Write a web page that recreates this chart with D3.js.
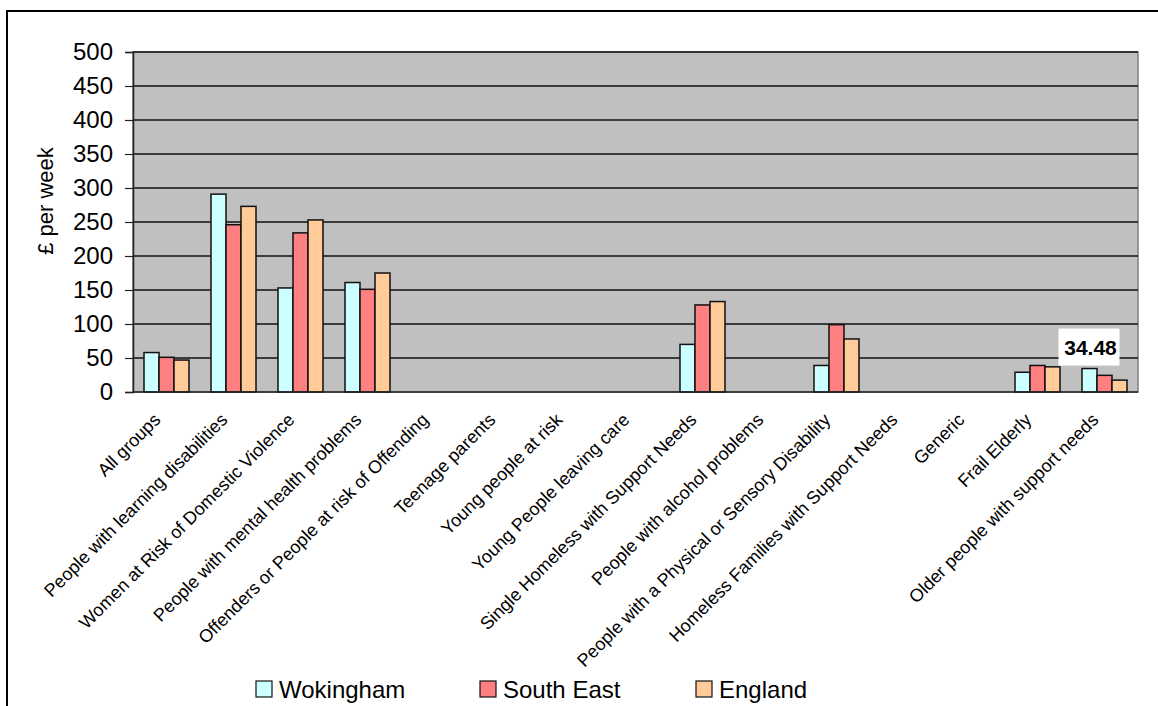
<!DOCTYPE html>
<html>
<head>
<meta charset="utf-8">
<script src="https://cdn.jsdelivr.net/npm/d3@7"></script>
<style>
  html, body { margin: 0; padding: 0; background: #fff; }
  svg { display: block; font-family: Arial, "Liberation Sans", sans-serif; }
</style>
</head>
<body>
<svg id="chart" width="1158" height="706"></svg>
<script>
// Supported housing cost per week by client group
const categories = [
  "All groups",
  "People with learning disabilities",
  "Women at Risk of Domestic Violence",
  "People with mental health problems",
  "Offenders or People at risk of Offending",
  "Teenage parents",
  "Young people at risk",
  "Young People leaving care",
  "Single Homeless with Support Needs",
  "People with alcohol problems",
  "People with a Physical or Sensory Disability",
  "Homeless Families with Support Needs",
  "Generic",
  "Frail Elderly",
  "Older people with support needs"
];
const seriesNames = ["Wokingham", "South East", "England"];
const wokingham = [58, 291, 153, 161, null, null, null, null, 70, null, 39, null, null, 29, 34.48];
const southEast = [51, 246, 234, 151, null, null, null, null, 128, null, 99, null, null, 39, 24.5];
const england   = [47, 273, 253, 175, null, null, null, null, 133, null, 78, null, null, 37, 17.5];
const seriesColors = ["#CCFFFF", "#FF8080", "#FFCC99"];
const yTicks = [0, 50, 100, 150, 200, 250, 300, 350, 400, 450, 500];
const labelled = { series: 0, category: "Older people with support needs", text: "34.48" };

const seriesValues = [wokingham, southEast, england];
const rows = categories.map((c, i) => ({
  category: c,
  values: seriesNames.map((s, k) => ({ series: s, k, value: seriesValues[k][i] }))
}));

const svg = d3.select("#chart");
const plot = { left: 133, right: 1138, top: 52, bottom: 392 };

// outer frame (top and left edges)
svg.append("path")
  .attr("d", "M7,706 L7,11 L1158,11")
  .attr("fill", "none").attr("stroke", "#000").attr("stroke-width", 2);

const x0 = d3.scaleBand().domain(categories).range([plot.left, plot.right]).padding(0);
const x1 = d3.scaleBand().domain(seriesNames).range([11, 56]).padding(0);
const y = d3.scaleLinear().domain([0, 500]).range([plot.bottom, plot.top]);

// plot background
svg.append("rect")
  .attr("x", plot.left).attr("y", plot.top)
  .attr("width", plot.right - plot.left).attr("height", plot.bottom - plot.top)
  .attr("fill", "#C0C0C0").attr("stroke", "#808080").attr("stroke-width", 1.5);

// horizontal gridlines
svg.append("g").selectAll("line")
  .data(yTicks.filter(t => t > 0))
  .join("line")
  .attr("x1", plot.left).attr("x2", plot.right)
  .attr("y1", d => y(d)).attr("y2", d => y(d))
  .attr("stroke", "#111").attr("stroke-width", 1.3);

// bars
const groups = svg.append("g").selectAll("g")
  .data(rows)
  .join("g")
  .attr("transform", d => `translate(${x0(d.category)},0)`);

groups.selectAll("rect")
  .data(d => d.values.filter(v => v.value != null))
  .join("rect")
  .attr("x", d => x1(d.series))
  .attr("width", x1.bandwidth())
  .attr("y", d => y(d.value))
  .attr("height", d => y(0) - y(d.value))
  .attr("fill", d => seriesColors[d.k])
  .attr("stroke", "#111").attr("stroke-width", 1.5);

// y axis
const yAxis = svg.append("g")
  .attr("transform", `translate(${plot.left},0)`)
  .call(d3.axisLeft(y).tickValues(yTicks).tickSize(8).tickPadding(12).tickFormat(d3.format("d")));
yAxis.select(".domain").attr("stroke", "#222").attr("stroke-width", 1.5);
yAxis.selectAll(".tick line").attr("stroke", "#222").attr("stroke-width", 1.2);
yAxis.selectAll(".tick text")
  .attr("font-size", 24).attr("fill", "#000")
  .attr("font-family", "Arial, 'Liberation Sans', sans-serif");

// x axis baseline
svg.append("line")
  .attr("x1", plot.left).attr("x2", plot.right)
  .attr("y1", y(0)).attr("y2", y(0))
  .attr("stroke", "#222").attr("stroke-width", 1.5);

// category labels, rotated
svg.append("g").selectAll("text")
  .data(categories)
  .join("text")
  .attr("transform", d => `translate(${x0(d) + x0.bandwidth() / 2 - 5},421) rotate(-45)`)
  .attr("text-anchor", "end")
  .attr("font-size", 18)
  .attr("fill", "#000")
  .text(d => d);

// y axis title
svg.append("text")
  .attr("transform", `translate(53,201) rotate(-90)`)
  .attr("text-anchor", "middle")
  .attr("font-size", 22)
  .attr("fill", "#000")
  .text("£ per week");

// value label on the older people Wokingham bar
{
  const i = categories.indexOf(labelled.category);
  const v = seriesValues[labelled.series][i];
  const cx = x0(labelled.category) + x1(seriesNames[labelled.series]) + x1.bandwidth() / 2;
  const g = svg.append("g");
  g.append("rect")
    .attr("x", cx - 31).attr("y", y(v) - 40)
    .attr("width", 61).attr("height", 37)
    .attr("fill", "#fff");
  g.append("text")
    .attr("x", cx + 1).attr("y", y(v) - 14)
    .attr("text-anchor", "middle")
    .attr("font-size", 21).attr("font-weight", "bold")
    .attr("fill", "#000")
    .text(labelled.text);
}

// legend
const legendX = [256, 480, 696];
const legend = svg.append("g").selectAll("g")
  .data(seriesNames)
  .join("g")
  .attr("transform", (d, i) => `translate(${legendX[i]},681)`);
legend.append("rect")
  .attr("width", 16).attr("height", 16)
  .attr("fill", (d, i) => seriesColors[i])
  .attr("stroke", "#111").attr("stroke-width", 1.2);
legend.append("text")
  .attr("x", 23).attr("y", 17)
  .attr("font-size", 24).attr("fill", "#000")
  .text(d => d);
</script>
</body>
</html>
